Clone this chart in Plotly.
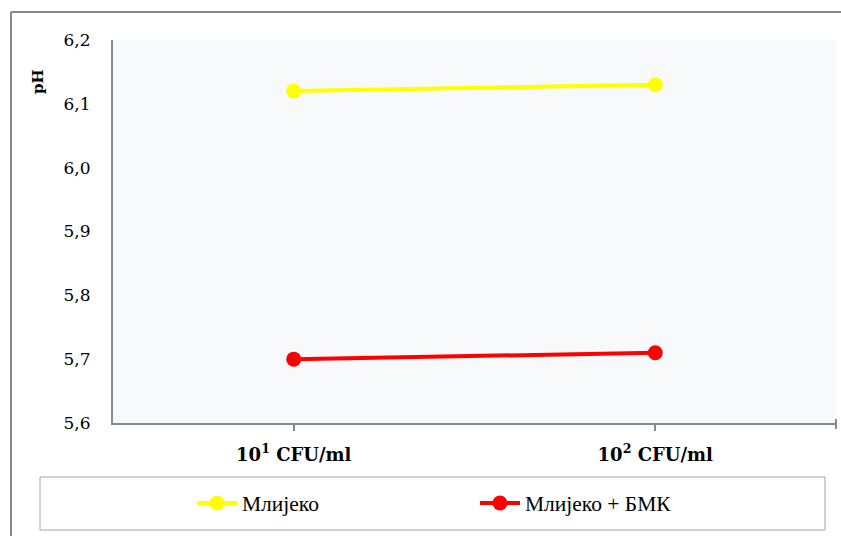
import plotly.graph_objects as go

# Inoculum levels and measured pH values
categories = ["10<sup>1</sup> CFU/ml", "10<sup>2</sup> CFU/ml"]
milk_ph = [6.12, 6.13]
milk_bmk_ph = [5.70, 5.71]
series_names = ["Млијеко", "Млијеко + БМК"]
y_ticks = [5.6, 5.7, 5.8, 5.9, 6.0, 6.1, 6.2]

serif = "DejaVu Serif"
legend_font = "Liberation Serif"
axis_grey = "#898989"

# plot area in pixels: x 113..836, y 40..423
PX_L, PX_R, PX_T, PX_B = 113, 836, 40, 423


def px_x(x):
    return (x - PX_L) / (PX_R - PX_L)


def px_y(y):
    return (PX_B - y) / (PX_B - PX_T)


fig = go.Figure()
fig.add_trace(go.Scatter(
    x=categories, y=milk_ph, name=series_names[0], mode="lines+markers",
    line=dict(color="#FFFF00", width=4),
    marker=dict(color="#FFFF00", size=15),
    legend="legend",
))
fig.add_trace(go.Scatter(
    x=categories, y=milk_bmk_ph, name=series_names[1], mode="lines+markers",
    line=dict(color="#FF0000", width=4),
    marker=dict(color="#FF0000", size=15),
    legend="legend2",
))

legend_common = dict(
    orientation="h", xanchor="left", yanchor="middle",
    font=dict(family=legend_font, size=21.5, color="#000000"),
    bgcolor="rgba(0,0,0,0)", borderwidth=0, itemwidth=40,
)

fig.update_layout(
    width=841, height=536,
    margin=dict(l=PX_L, r=841 - PX_R, t=PX_T, b=536 - PX_B, autoexpand=False),
    paper_bgcolor="white",
    plot_bgcolor="#F8F9FA",
    separators=", ",
    showlegend=True,
    legend=dict(x=px_x(192), y=px_y(503), **legend_common),
    legend2=dict(x=px_x(475), y=px_y(503), **legend_common),
    font=dict(family=serif, color="#000000"),
)

fig.update_xaxes(
    type="category", range=[-0.5, 1.5],
    showline=True, linecolor=axis_grey, linewidth=2,
    ticks="outside", ticklen=6, tickcolor=axis_grey, tickwidth=2,
    ticklabelstandoff=8,
    tickfont=dict(family=serif, size=18, color="#000000", weight="bold"),
    showgrid=False, zeroline=False,
)
fig.update_yaxes(
    range=[5.6, 6.2], tickvals=y_ticks, tickformat=".1f",
    showline=True, linecolor=axis_grey, linewidth=2,
    ticks="", ticklabelstandoff=17,
    tickfont=dict(family=serif, size=17, color="#000000"),
    showgrid=False, zeroline=False,
)

# Axis title placed near the top of the value axis
fig.add_annotation(
    text="<b>pH</b>", xref="paper", yref="paper", x=px_x(38), y=px_y(82),
    showarrow=False, textangle=-90, xanchor="center", yanchor="middle",
    font=dict(family=serif, size=15, color="#000000"),
)

# Closing tick at the right end of the category axis
fig.add_shape(type="line", xref="paper", yref="paper", x0=1, x1=1,
              y0=px_y(429), y1=px_y(419), line=dict(color=axis_grey, width=2))

# Outer chart frame (left and top edges)
fig.add_shape(type="line", xref="paper", yref="paper", x0=px_x(11), x1=px_x(11),
              y0=px_y(12), y1=px_y(540), line=dict(color=axis_grey, width=2))
fig.add_shape(type="line", xref="paper", yref="paper", x0=px_x(11), x1=px_x(845),
              y0=px_y(12), y1=px_y(12), line=dict(color=axis_grey, width=2))

# Legend frame
fig.add_shape(type="rect", xref="paper", yref="paper", x0=px_x(40), x1=px_x(825),
              y0=px_y(530), y1=px_y(477), line=dict(color="#A6A6A6", width=1))

fig.write_html("out.html")
